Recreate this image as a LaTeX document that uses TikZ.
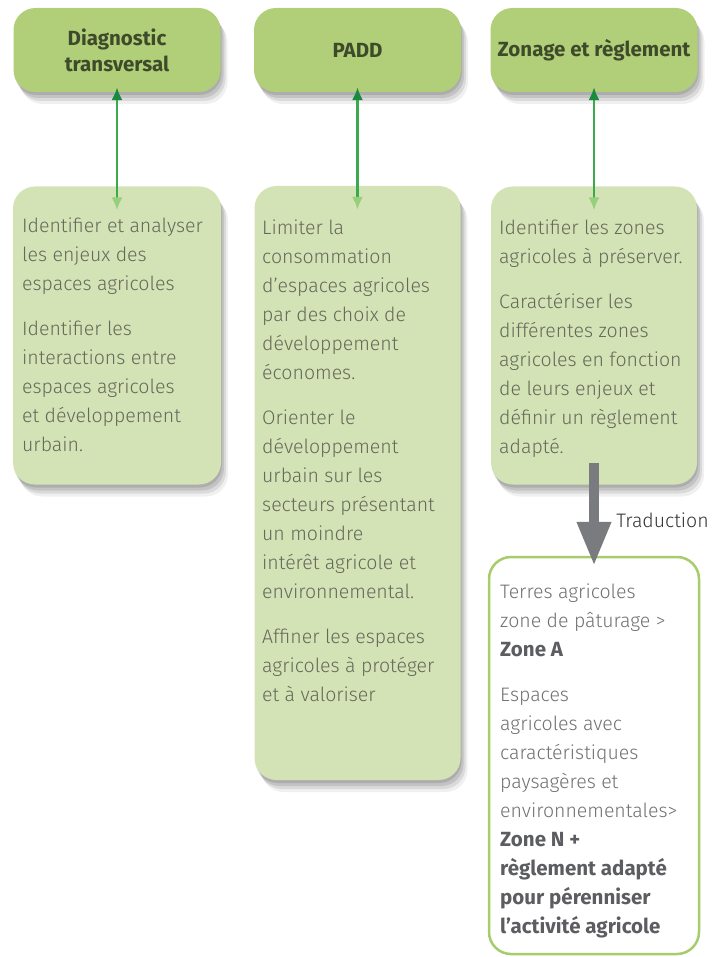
\documentclass[tikz,border=0pt]{standalone}
\usepackage{fontspec}
\setmainfont{Fira Sans}[UprightFont=* Light, BoldFont=* Bold]
\usetikzlibrary{arrows.meta,shadows}

\definecolor{topfill}{HTML}{B1CE79}
\definecolor{lowfill}{HTML}{D4E3B6}
\definecolor{headtxt}{HTML}{3E4B2B}
\definecolor{bodytxt}{HTML}{66685A}
\definecolor{restxt}{HTML}{707173}
\definecolor{resbold}{HTML}{5C5D60}
\definecolor{resline}{HTML}{A6CC6B}
\definecolor{lnk}{HTML}{3BAA4A}
\definecolor{lnkdark}{HTML}{1A8A3C}
\definecolor{lnklight}{HTML}{97D07D}
\definecolor{trgray}{HTML}{7A7B7E}

\newcommand\resb[1]{{\color{resbold}\fontsize{20.5}{29}\selectfont\bfseries #1}}

\begin{document}
\begin{tikzpicture}[x=1pt, y=-1pt,
  shade/.style={
    drop shadow={shadow xshift=1pt, shadow yshift=-3pt, fill=black, opacity=.11},
    drop shadow={shadow xshift=3pt, shadow yshift=-6pt, fill=black, opacity=.11},
    drop shadow={shadow xshift=5pt, shadow yshift=-9pt, fill=black, opacity=.09},
    drop shadow={shadow xshift=7pt, shadow yshift=-12pt, fill=black, opacity=.06}},
  topbox/.style={shade, fill=topfill, rounded corners=22, minimum width=207, minimum height=84,
    align=center, text=headtxt, font=\fontsize{20.5}{26}\selectfont\bfseries},
  lowbox/.style={shade, fill=lowfill, rounded corners=22, minimum width=208},
  resbox/.style={draw=resline, line width=2.5, fill=white, rounded corners=22, minimum width=210},
  body/.style={anchor=north west, align=left, inner sep=0pt, text=bodytxt,
    font=\fontsize{19.5}{29}\selectfont},
  link/.style={line width=2.2, draw=lnk, shorten <=-5, shorten >=-24,
    {Latex[length=13, width=11, color=lnkdark]}-{Latex[length=13, width=11, color=lnklight]}},
  transl/.style={line width=10, draw=trgray, shorten <=-22, shorten >=-10,
    -{Triangle[length=44, width=32]}}]

\useasboundingbox (0,0) rectangle (726,957);

% ---------- Top: the three stages ----------
\node[topbox] (diag) at (117,50) {Diagnostic\\transversal};
\node[topbox] (padd) at (357.5,50) {PADD};
\node[topbox] (zon) at (594,50) {Zonage et règlement};

% ---------- Below: what each stage does ----------
\node[lowbox, minimum height=298] (low1) at (117,335.5) {};
\node[lowbox, minimum height=594, minimum width=206] (low2) at (357.5,483) {};
\node[lowbox, minimum height=298, minimum width=206] (low3) at (594,335.5) {};

\node[body] (txt1) at (22,218) {Identifier et analyser\\les enjeux des\\espaces agricoles\\[16pt]
  Identifier les\\interactions entre\\espaces agricoles\\et développement\\urbain.};
\node[body] (txt2) at (262,220) {Limiter la\\consommation\\d’espaces agricoles\\par des choix de\\développement\\économes.\\[16pt]
  Orienter le\\développement\\urbain sur les\\secteurs présentant\\un moindre\\intérêt agricole et\\environnemental.\\[16pt]
  Affiner les espaces\\agricoles à protéger\\et à valoriser};
\node[body] (txt3) at (499,220) {Identifier les zones\\agricoles à préserver.\\[16pt]
  Caractériser les\\différentes zones\\agricoles en fonction\\de leurs enjeux et\\définir un règlement\\adapté.};

% Links between stages and contents
\draw[link] (diag.south) -- (low1.north);
\draw[link] (padd.south) -- (low2.north);
\draw[link] (zon.south) -- (low3.north);

% ---------- Bottom right: translation into zones ----------
\node[resbox, minimum height=397] (res) at (594,755.5) {};
\node[body, text=restxt] (txt4) at (500,584) {Terres agricoles\\zone de pâturage >\\\resb{Zone A}\\[16pt]
  Espaces\\agricoles avec\\caractéristiques\\paysagères et\\environnementales>\\
  \resb{Zone N +}\\\resb{règlement adapté}\\\resb{pour pérenniser}\\\resb{l’activité agricole}};

\draw[transl] (low3.south) -- (res.north)
  node[pos=.5, anchor=west, xshift=14, text=black!80, font=\fontsize{19.5}{22}\selectfont] (trad) {Traduction};

\end{tikzpicture}
\end{document}
